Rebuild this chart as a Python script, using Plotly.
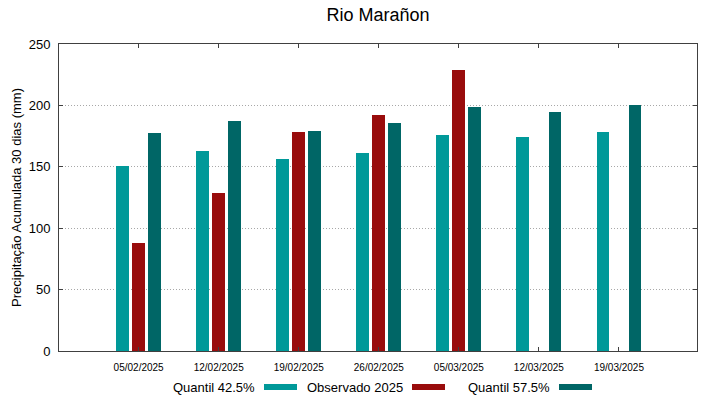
import plotly.graph_objects as go

categories = ["05/02/2025", "12/02/2025", "19/02/2025", "26/02/2025",
              "05/03/2025", "12/03/2025", "19/03/2025"]
q425 = [150.5, 163, 156.5, 161, 176, 174, 178.5]
obs2025 = [88, 128.5, 178, 192, 228.5, None, None]
q575 = [177.5, 187, 179, 186, 199, 194.5, 200.5]

series_names = ["Quantil 42.5%", "Observado 2025", "Quantil 57.5%"]
series_colors = ["#009999", "#990c0c", "#006666"]
series_values = [q425, obs2025, q575]
offsets = [-0.2, 0.0, 0.2]

W, H = 719, 399
L, R, T, B = 59, 22, 44, 48

idx = list(range(len(categories)))
fig = go.Figure()
for name, col, vals, off in zip(series_names, series_colors, series_values, offsets):
    fig.add_trace(go.Bar(
        x=idx, y=vals, name=name, offset=off - 0.08, width=0.16,
        marker=dict(color=col, line=dict(width=0)), showlegend=False,
    ))

fig.update_layout(
    width=W, height=H,
    margin=dict(l=L, r=R, t=T, b=B, autoexpand=False),
    paper_bgcolor="white", plot_bgcolor="white",
    font=dict(family="Liberation Sans, Arial, sans-serif", color="black"),
    title=dict(text="Rio Marañon", x=(L + (W - R)) / 2 / W, xanchor="center",
               y=1 - 15 / H, yanchor="middle", font=dict(size=18)),
    barmode="overlay",
    bargap=0,
)
fig.update_xaxes(
    range=[-0.995, 6.975], tickmode="array", tickvals=idx, ticktext=categories,
    tickfont=dict(size=10), ticks="inside", ticklen=4, tickcolor="#404040",
    ticklabelstandoff=7,
    showline=True, linecolor="#404040", linewidth=1, mirror="ticks",
    showgrid=False, zeroline=False, automargin=False,
)
fig.update_yaxes(
    range=[0, 250], dtick=50, tickfont=dict(size=13),
    ticks="inside", ticklen=4, tickcolor="#404040",
    ticklabelstandoff=5,
    showline=True, linecolor="#404040", linewidth=1, mirror="ticks",
    showgrid=True, gridcolor="#a8a8a8", griddash="1px,2px", gridwidth=1,
    zeroline=False, automargin=False,
    title=dict(text="Precipitação Acumulada 30 dias (mm)", font=dict(size=13), standoff=4),
)

# legend drawn gnuplot-style: text then colour swatch to its right
pw = W - L - R
def px2paper_x(px):
    return (px - L) / pw
ph = H - T - B
def py2paper_y(py):
    return 1 - (py - T) / ph

swatch_starts = [264, 412, 559]
sw_len = 33
leg_y = 387
for name, col, sx in zip(series_names, series_colors, swatch_starts):
    fig.add_annotation(text=name, xref="paper", yref="paper",
                       x=px2paper_x(sx - 7), y=py2paper_y(leg_y),
                       xanchor="right", yanchor="middle", showarrow=False,
                       font=dict(size=13))
    fig.add_shape(type="rect", xref="paper", yref="paper",
                  x0=px2paper_x(sx), x1=px2paper_x(sx + sw_len),
                  y0=py2paper_y(leg_y + 3), y1=py2paper_y(leg_y - 3),
                  fillcolor=col, line=dict(width=0))

fig.write_html("out.html", config={"displayModeBar": False},
               post_script="document.body.style.margin='0';document.body.style.overflow='hidden';")
